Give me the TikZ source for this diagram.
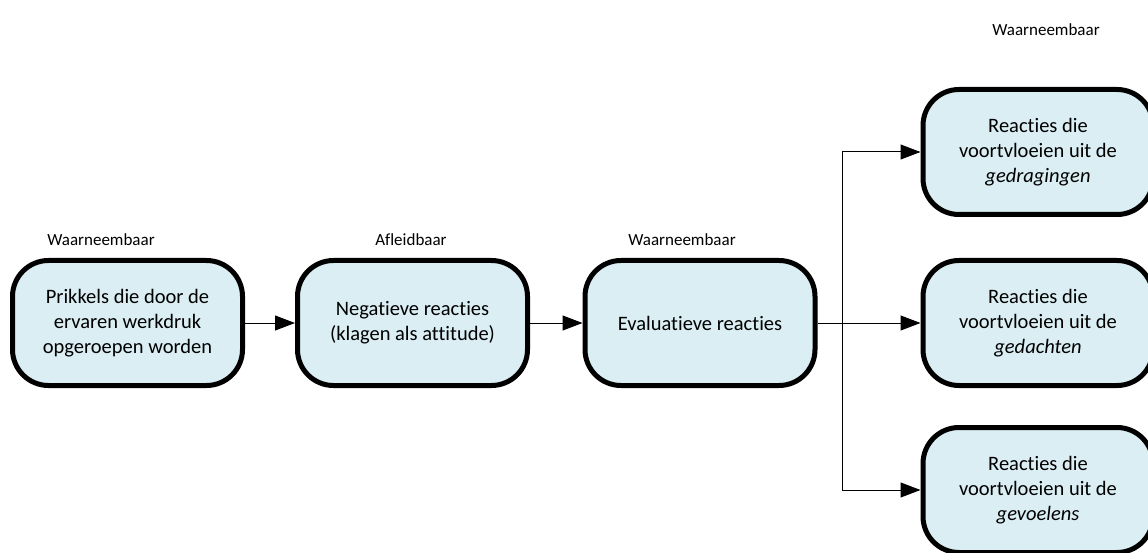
\documentclass[tikz,border=0pt]{standalone}
\usepackage{fontspec}
\setmainfont{Carlito}[Ligatures={NoCommon}]
\usetikzlibrary{arrows.meta}
\definecolor{boxfill}{HTML}{DAEEF3}
\tikzset{
  stepbox/.style={draw=black, fill=boxfill, line width=5pt, rounded corners=36pt,
    minimum width=230pt, minimum height=125pt, align=center, inner sep=4pt,
    font=\fontsize{20.5}{25}\selectfont},
  lbl/.style={font=\fontsize{17}{20}\selectfont, inner sep=0pt},
  conn/.style={line width=1pt, -{Triangle[length=20pt,width=15pt]}},
  plain/.style={line width=1pt}
}
\begin{document}
\begin{tikzpicture}[x=1pt,y=-1pt]
\useasboundingbox (0,0) rectangle (1148,553);
\node[stepbox] (b1) at (127.5,323) {Prikkels die door de\\ervaren werkdruk\\opgeroepen worden};
\node[stepbox] (b2) at (412.5,323) {Negatieve reacties\\(klagen als attitude)};
\node[stepbox] (b3) at (700,323) {Evaluatieve reacties};
\node[stepbox] (b4) at (1038,152) {Reacties die\\voortvloeien uit de\\\textit{gedragingen}};
\node[stepbox] (b5) at (1038,323) {Reacties die\\voortvloeien uit de\\\textit{gedachten}};
\node[stepbox] (b6) at (1038,490) {Reacties die\\voortvloeien uit de\\\textit{gevoelens}};
\node[lbl] (l1) at (101,240) {Waarneembaar};
\node[lbl] (l2) at (411,240) {Afleidbaar};
\node[lbl] (l3) at (682,240) {Waarneembaar};
\node[lbl] (l4) at (1046,30) {Waarneembaar};
\coordinate (j) at (842,323);
\draw[conn] (b1.east) -- (b2.west);
\draw[conn] (b2.east) -- (b3.west);
\draw[plain] (b3.east) -- (j);
\draw[conn] (j) -- (b5.west);
\draw[conn] (j) |- (b4.west);
\draw[conn] (j) |- (b6.west);
\end{tikzpicture}
\end{document}
